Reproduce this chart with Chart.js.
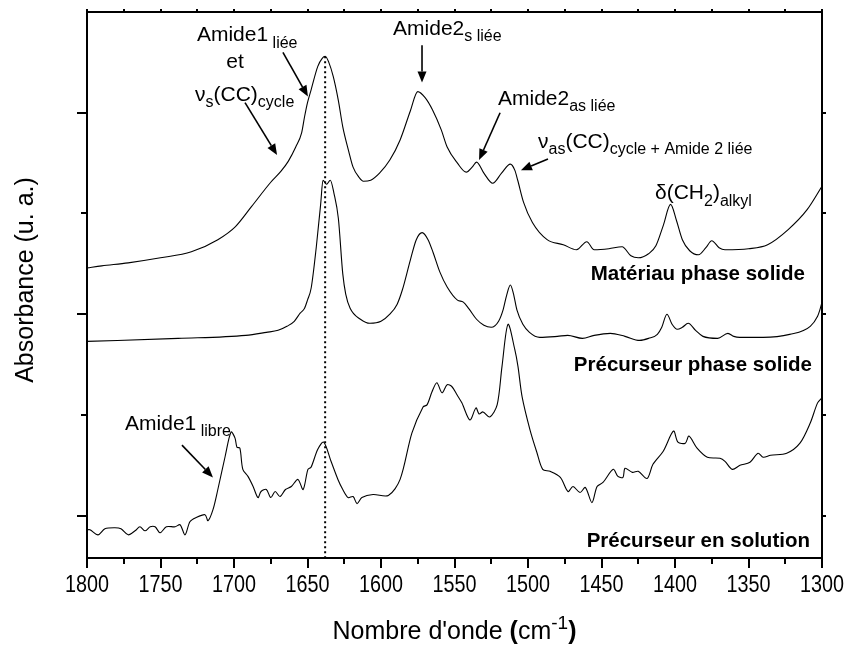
<!DOCTYPE html>
<html>
<head>
<meta charset="utf-8">
<script src="https://cdn.jsdelivr.net/npm/chart.js@4.4.0/dist/chart.umd.min.js"></script>
<style>
  html, body { margin: 0; padding: 0; background: #fff; }
  canvas { display: block; }
</style>
</head>
<body>
<canvas id="chart" width="851" height="647"></canvas>
<script>
// Spectre IR : matériau en phase solide
const wnMateriau = [1800, 1790, 1772, 1750, 1729, 1711, 1699, 1688, 1675, 1668, 1663, 1658, 1654, 1652, 1650,
  1647.5, 1643, 1640, 1638, 1635.5, 1632.5, 1629, 1626, 1622, 1619, 1615, 1612, 1607, 1601, 1594, 1587, 1580,
  1575, 1570, 1565, 1559, 1555, 1548, 1542, 1538, 1535, 1530, 1524, 1518, 1512, 1509, 1507, 1503, 1497, 1487,
  1476, 1467, 1460, 1455, 1445, 1436, 1430, 1425, 1418, 1413, 1408, 1403, 1399, 1395, 1390, 1384, 1379, 1375,
  1370, 1366, 1350, 1337, 1323, 1310, 1300];
const absMateriau = [2.46, 2.48, 2.51, 2.56, 2.62, 2.74, 2.87, 3.07, 3.31, 3.42, 3.52, 3.66, 3.80, 3.96, 4.10,
  4.23, 4.46, 4.54, 4.56, 4.50, 4.36, 4.12, 3.86, 3.62, 3.46, 3.36, 3.32, 3.33, 3.40, 3.53, 3.73, 4.02,
  4.21, 4.15, 4.03, 3.83, 3.66, 3.50, 3.41, 3.46, 3.51, 3.40, 3.30, 3.40, 3.49, 3.43, 3.33, 3.11, 2.91, 2.74,
  2.69, 2.64, 2.72, 2.64, 2.65, 2.67, 2.58, 2.56, 2.60, 2.68, 2.88, 3.09, 2.93, 2.74, 2.63, 2.59, 2.66, 2.73,
  2.66, 2.64, 2.65, 2.69, 2.84, 3.04, 3.27];

// Spectre IR : précurseur en phase solide
const wnPrecSolide = [1800, 1738, 1692, 1678, 1670, 1664, 1659, 1655, 1652, 1650, 1647.5, 1644, 1641, 1639.5,
  1637, 1634.5, 1632, 1629, 1626, 1624, 1621, 1614, 1607.5, 1600, 1594, 1589, 1585.5, 1580, 1576, 1572, 1568,
  1564.5, 1560, 1555, 1548, 1544, 1540, 1535, 1530, 1525, 1520, 1517, 1514.5, 1512, 1510, 1507.5, 1503.5, 1499,
  1492, 1480, 1473, 1463, 1455, 1444, 1434, 1424, 1418, 1412, 1409, 1405.5, 1402, 1398.5, 1395, 1391, 1386,
  1381, 1371, 1364, 1360, 1356, 1340, 1322, 1308, 1303, 1301.5, 1300];
const absPrecSolide = [1.73, 1.76, 1.79, 1.82, 1.84, 1.88, 1.93, 2.01, 2.06, 2.14, 2.26, 2.67, 3.10, 3.33,
  3.29, 3.33, 3.20, 2.95, 2.40, 2.20, 2.06, 1.95, 1.91, 1.93, 2.00, 2.10, 2.24, 2.54, 2.74, 2.81, 2.74,
  2.61, 2.42, 2.27, 2.14, 2.12, 2.05, 1.95, 1.89, 1.87, 1.93, 2.04, 2.19, 2.29, 2.21, 2.04, 1.90, 1.82,
  1.77, 1.78, 1.79, 1.76, 1.79, 1.81, 1.78, 1.74, 1.76, 1.80, 1.87, 2.00, 1.90, 1.85, 1.87, 1.91, 1.84,
  1.78, 1.76, 1.81, 1.78, 1.77, 1.77, 1.80, 1.88, 1.98, 2.04, 2.12];

// Spectre IR : précurseur en solution
const wnPrecSolution = [1800, 1798, 1792.5, 1787.8, 1781, 1776.9, 1772, 1767.3, 1764, 1760.5, 1757, 1753.7,
  1750.3, 1746, 1740, 1736.7, 1733.3, 1730, 1726, 1719.7, 1717.7, 1714.3, 1711, 1706, 1702, 1699.3, 1698,
  1696, 1694, 1690.5, 1687, 1683.7, 1681.6, 1678, 1675, 1672, 1668.7, 1665, 1661, 1656.5, 1653, 1649.7,
  1647.6, 1643, 1639, 1634, 1629.3, 1626, 1622.4, 1619, 1616.3, 1613, 1605.4, 1595, 1587, 1579, 1571.4,
  1568.7, 1565.3, 1562, 1558.5, 1555, 1551.7, 1548.3, 1545, 1539.5, 1535.4, 1533.3, 1530.6, 1526, 1521,
  1517.7, 1513.6, 1509, 1506.8, 1504, 1498.6, 1494, 1490, 1485, 1478, 1472.8, 1469.4, 1464.6, 1461, 1456.5,
  1453, 1449, 1442, 1438.8, 1435.4, 1434, 1429, 1425, 1419, 1415, 1408, 1401, 1398, 1393, 1390.5, 1385, 1378,
  1369.4, 1366, 1361, 1355.8, 1349, 1343.5, 1340, 1335, 1324, 1315, 1308, 1303, 1300];
const absPrecSolution = [-0.14, -0.14, -0.19, -0.13, -0.12, -0.13, -0.19, -0.15, -0.11, -0.15, -0.11, -0.11,
  -0.17, -0.11, -0.11, -0.09, -0.19, -0.06, -0.02, 0.01, -0.05, 0.06, 0.26, 0.59, 0.83, 0.77, 0.68,
  0.67, 0.46, 0.39, 0.29, 0.18, 0.24, 0.26, 0.18, 0.24, 0.19, 0.26, 0.29, 0.36, 0.26, 0.46,
  0.48, 0.66, 0.73, 0.54, 0.36, 0.26, 0.18, 0.19, 0.12, 0.18, 0.21, 0.20, 0.36, 0.82, 1.08,
  1.10, 1.23, 1.32, 1.22, 1.30, 1.28, 1.20, 1.12, 0.95, 1.07, 1.01, 1.03, 0.98, 1.10,
  1.48, 1.90, 1.65, 1.48, 1.18, 0.85, 0.63, 0.46, 0.44, 0.38, 0.24, 0.29, 0.23, 0.28, 0.13,
  0.29, 0.33, 0.46, 0.39, 0.38, 0.47, 0.43, 0.44, 0.37, 0.51, 0.64, 0.84, 0.73, 0.72, 0.79, 0.67, 0.58,
  0.57, 0.54, 0.46, 0.50, 0.53, 0.62, 0.58, 0.60, 0.62, 0.72, 0.92, 1.12, 1.17];

// Position de la bande Amide1 liée (ligne pointillée)
const amide1Liee = 1638;

const xTickValues = [1800, 1750, 1700, 1650, 1600, 1550, 1500, 1450, 1400, 1350, 1300];
const yTickValues = [0, 1, 2, 3, 4];

const FONT = "'Liberation Sans', Arial, Helvetica, sans-serif";

const toPoints = (xs, ys) => xs.map((x, i) => ({ x: x, y: ys[i] }));

// Étiquettes : morceaux [texte, style] avec style 'sub' (indice), 'sup' (exposant) ou 'bold'
const labels = [
  { wn: 1725.2, y: 4.71, parts: [['Amide1'], [' liée', 'sub']] },
  { wn: 1699.3, y: 4.44, parts: [['et']], align: 'center' },
  { wn: 1726.5, y: 4.12, parts: [['ν'], ['s', 'sub'], ['(CC)'], ['cycle', 'sub']] },
  { wn: 1591.8, y: 4.77, parts: [['Amide2'], ['s liée', 'sub']] },
  { wn: 1520.4, y: 4.08, parts: [['Amide2'], ['as liée', 'sub']] },
  { wn: 1493.2, y: 3.65, parts: [['ν'], ['as', 'sub'], ['(CC)'], ['cycle + Amide 2 liée', 'sub']] },
  { wn: 1413.6, y: 3.14, parts: [['δ(CH'], ['2', 'sub'], [')'], ['alkyl', 'sub']] },
  { wn: 1774.1, y: 0.85, parts: [['Amide1'], [' libre', 'sub']] },
  { wn: 1311.6, y: 2.34, parts: [['Matériau phase solide', 'bold']], align: 'right' },
  { wn: 1306.8, y: 1.44, parts: [['Précurseur phase solide', 'bold']], align: 'right' },
  { wn: 1308.2, y: -0.31, parts: [['Précurseur en solution', 'bold']], align: 'right' }
];

// Flèches : départ -> pointe
const arrows = [
  [1666.7, 4.60, 1649.7, 4.16],
  [1692.5, 4.10, 1670.7, 3.58],
  [1572.1, 4.67, 1572.1, 4.30],
  [1519.0, 4.00, 1533.3, 3.53],
  [1486.4, 3.54, 1504.8, 3.43],
  [1735.4, 0.70, 1714.3, 0.38]
];

function partFont(style, size) {
  if (style === 'bold') return 'bold ' + size + 'px ' + FONT;
  if (style === 'sub' || style === 'sup') return Math.round(size * 0.76) + 'px ' + FONT;
  return size + 'px ' + FONT;
}

function richWidth(ctx, parts, size) {
  let w = 0;
  parts.forEach(p => { ctx.font = partFont(p[1], size); w += ctx.measureText(p[0]).width; });
  return w;
}

function drawRich(ctx, parts, x, y, size, align) {
  const w = richWidth(ctx, parts, size);
  let cx = align === 'center' ? x - w / 2 : align === 'right' ? x - w : x;
  ctx.textAlign = 'left';
  ctx.textBaseline = 'alphabetic';
  parts.forEach(p => {
    ctx.font = partFont(p[1], size);
    let dy = 0;
    if (p[1] === 'sub') dy = size * 0.3;
    if (p[1] === 'sup') dy = -size * 0.42;
    ctx.fillText(p[0], cx, y + dy);
    cx += ctx.measureText(p[0]).width;
  });
}

function drawArrow(ctx, x1, y1, x2, y2) {
  const ang = Math.atan2(y2 - y1, x2 - x1);
  const len = 11, half = 4.5;
  ctx.beginPath();
  ctx.moveTo(x1, y1);
  ctx.lineTo(x2 - Math.cos(ang) * len, y2 - Math.sin(ang) * len);
  ctx.lineWidth = 1.6;
  ctx.stroke();
  ctx.beginPath();
  ctx.moveTo(x2, y2);
  ctx.lineTo(x2 - Math.cos(ang) * len - Math.sin(ang) * half, y2 - Math.sin(ang) * len + Math.cos(ang) * half);
  ctx.lineTo(x2 - Math.cos(ang) * len + Math.sin(ang) * half, y2 - Math.sin(ang) * len - Math.cos(ang) * half);
  ctx.closePath();
  ctx.fill();
}

// Cadre, graduations, titres d'axes et annotations dessinés à la main
const decorations = {
  id: 'decorations',
  afterDraw(chart) {
    const ctx = chart.ctx;
    const area = chart.chartArea;
    const xs = chart.scales.x, ys = chart.scales.y;
    ctx.save();
    ctx.strokeStyle = '#000';
    ctx.fillStyle = '#000';
    ctx.lineCap = 'butt';

    ctx.lineWidth = 2;
    ctx.strokeRect(area.left, area.top, area.right - area.left, area.bottom - area.top);

    // graduations en x (tous les 25 cm-1)
    for (let wn = 1800; wn >= 1300; wn -= 25) {
      const px = Math.round(xs.getPixelForValue(wn));
      const major = wn % 50 === 0;
      ctx.lineWidth = 2;
      ctx.beginPath();
      ctx.moveTo(px, area.bottom);
      ctx.lineTo(px, area.bottom + (major ? 10 : 6));
      ctx.moveTo(px, area.top);
      ctx.lineTo(px, area.top - 3);
      ctx.stroke();
    }
    // graduations en y
    yTickValues.forEach(v => {
      const py = Math.round(ys.getPixelForValue(v));
      const major = v % 2 === 0;
      ctx.lineWidth = 2;
      ctx.beginPath();
      ctx.moveTo(area.left, py);
      ctx.lineTo(area.left - (major ? 10 : 6), py);
      ctx.moveTo(area.right, py);
      ctx.lineTo(area.right + 4, py);
      ctx.stroke();
    });

    // étiquettes de l'axe x
    ctx.textAlign = 'center';
    ctx.textBaseline = 'alphabetic';
    ctx.font = '23px ' + FONT;
    xTickValues.forEach(v => {
      const px = xs.getPixelForValue(v);
      ctx.save();
      ctx.translate(px, 592);
      ctx.scale(0.86, 1);
      ctx.fillText(String(v), 0, 0);
      ctx.restore();
    });

    // titre de l'axe x
    drawRich(ctx, [['Nombre d\'onde '], ['(', 'bold'], ['cm'], ['-1', 'sup'], [')', 'bold']],
      (area.left + area.right) / 2, 639, 25, 'center');

    // titre de l'axe y
    ctx.save();
    ctx.translate(33, 280);
    ctx.rotate(-Math.PI / 2);
    ctx.font = '25px ' + FONT;
    ctx.textAlign = 'center';
    ctx.fillText('Absorbance (u. a.)', 0, 0);
    ctx.restore();

    // annotations
    labels.forEach(l => {
      const bold = l.parts[0][1] === 'bold';
      drawRich(ctx, l.parts, xs.getPixelForValue(l.wn), ys.getPixelForValue(l.y), bold ? 20.5 : 21, l.align);
    });
    arrows.forEach(a => {
      drawArrow(ctx, xs.getPixelForValue(a[0]), ys.getPixelForValue(a[1]),
        xs.getPixelForValue(a[2]), ys.getPixelForValue(a[3]));
    });
    ctx.restore();
  }
};

const traceStyle = {
  borderColor: '#000',
  borderWidth: 1.1,
  pointRadius: 0,
  fill: false,
  cubicInterpolationMode: 'monotone'
};

new Chart(document.getElementById('chart').getContext('2d'), {
  type: 'line',
  data: {
    datasets: [
      Object.assign({ label: 'Matériau phase solide', data: toPoints(wnMateriau, absMateriau) }, traceStyle),
      Object.assign({ label: 'Précurseur phase solide', data: toPoints(wnPrecSolide, absPrecSolide) }, traceStyle),
      Object.assign({ label: 'Précurseur en solution', data: toPoints(wnPrecSolution, absPrecSolution) }, traceStyle,
        { cubicInterpolationMode: 'default', tension: 0.3 }),
      {
        label: 'Amide1 liée',
        data: [{ x: amide1Liee, y: absMateriau[wnMateriau.indexOf(amide1Liee)] }, { x: amide1Liee, y: -0.42 }],
        borderColor: '#000',
        borderWidth: 2,
        borderDash: [2, 3],
        borderCapStyle: 'butt',
        pointRadius: 0,
        fill: false
      }
    ]
  },
  options: {
    responsive: false,
    animation: false,
    devicePixelRatio: 1,
    layout: { padding: { top: 12, right: 29, left: 0, bottom: 0 } },
    plugins: { legend: { display: false }, tooltip: { enabled: false } },
    scales: {
      x: {
        type: 'linear',
        reverse: true,
        min: 1300,
        max: 1800,
        ticks: { display: false },
        grid: { display: false },
        border: { display: false },
        afterFit: s => { s.height = 89; }
      },
      y: {
        type: 'linear',
        min: -0.42,
        max: 5.0,
        ticks: { display: false },
        grid: { display: false },
        border: { display: false },
        afterFit: s => { s.width = 87; }
      }
    }
  },
  plugins: [decorations]
});
</script>
</body>
</html>
